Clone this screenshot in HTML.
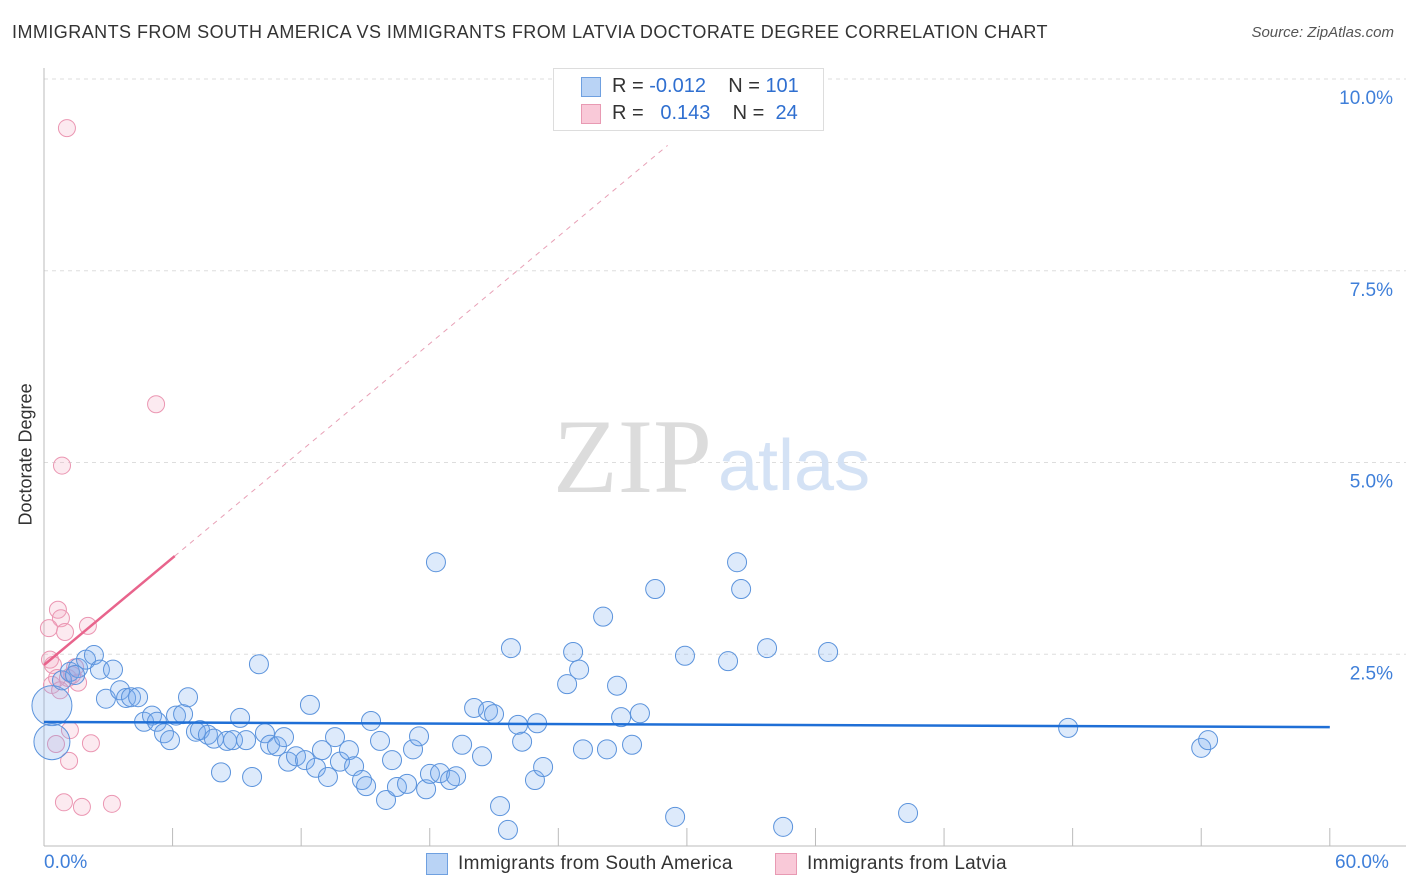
<!DOCTYPE html>
<html><head><meta charset="utf-8"><style>
body{margin:0;background:#fff;font-family:"Liberation Sans",sans-serif;}
#c{position:relative;width:1406px;height:892px;overflow:hidden}
.t{position:absolute;white-space:nowrap}
</style></head><body><div id="c">
<div class="t" style="left:12px;top:22px;font-size:18px;color:#333;letter-spacing:0.45px">IMMIGRANTS FROM SOUTH AMERICA VS IMMIGRANTS FROM LATVIA DOCTORATE DEGREE CORRELATION CHART</div>
<div class="t" style="right:12px;top:24px;font-size:15px;color:#555;font-style:italic">Source: ZipAtlas.com</div>
<svg id="s" width="1406" height="892" style="position:absolute;left:0;top:0"></svg>
</div>
<script>
const yTicks=[2.5,5,7.5,10];
const yTickLabels=["2.5%","5.0%","7.5%","10.0%"];
const xTickVals=[0,6,12,18,24,30,36,42,48,54,60];
const saX=[.37,.37,.84,1.21,1.59,1.96,2.33,2.61,3.22,1.45,2.89,3.55,3.83,4.06,4.39,4.67,5.04,5.27,5.6,5.88,6.16,6.49,6.72,7.09,7.28,7.65,7.93,8.26,8.54,8.82,9.15,9.43,9.71,10.03,10.31,10.55,10.87,11.2,11.39,11.76,12.18,12.41,12.69,12.97,13.25,13.58,13.81,14.23,14.47,14.84,15.03,15.26,15.68,15.96,16.24,16.47,16.94,17.22,17.5,17.83,18.01,18.29,18.48,18.95,19.23,19.51,20.07,20.44,20.72,21,21.28,21.65,21.79,22.12,22.31,22.91,23.01,23.29,24.41,24.69,24.97,25.15,26.09,26.27,26.74,26.93,27.44,27.81,28.52,29.45,29.91,31.92,32.34,32.53,33.74,34.49,36.59,40.32,47.79,54,54.32];
const saY=[1.83,1.36,2.16,2.27,2.32,2.43,2.49,2.3,2.3,2.23,1.92,2.03,1.93,1.94,1.94,1.62,1.7,1.62,1.47,1.38,1.7,1.72,1.94,1.49,1.51,1.45,1.4,.96,1.37,1.38,1.67,1.38,.9,2.37,1.47,1.32,1.3,1.42,1.1,1.17,1.12,1.84,1.02,1.25,.9,1.42,1.1,1.25,1.04,.86,.78,1.63,1.37,.6,1.12,.77,.81,1.26,1.43,.74,.94,3.7,.95,.86,.91,1.32,1.8,1.17,1.76,1.72,.52,.21,2.58,1.58,1.36,.86,1.6,1.03,2.11,2.53,2.3,1.26,2.99,1.26,2.09,1.68,1.32,1.73,3.35,.38,2.48,2.41,3.7,3.35,2.58,.25,2.53,.43,1.54,1.28,1.38];
const saBig=[20,18];
const lvX=[1.07,5.23,.84,.65,.79,.23,.98,2.05,.28,.42,.37,.61,1.12,1.45,1.59,.56,1.21,2.19,1.17,.93,1.77,3.17,.75,1.31];
const lvY=[9.36,5.76,4.96,3.08,2.97,2.84,2.79,2.87,2.43,2.36,2.1,2.19,2.19,2.33,2.13,1.33,1.51,1.34,1.11,.57,.51,.55,2.03,2.23];
const saTrend=[1.617,1.55];
const lvTrend=[2.36,3.78,29.1];
const X=v=>44+v*21.43, Y=v=>846-v*76.7;
const s=document.getElementById('s');const NS='http://www.w3.org/2000/svg';
function mk(t,a){const e=document.createElementNS(NS,t);for(const k in a)e.setAttribute(k,a[k]);s.appendChild(e);return e;}
yTicks.forEach((v,i)=>{
 const g=mk('line',{x1:44,x2:1420,y1:Y(v),y2:Y(v),stroke:'#ddd','stroke-dasharray':'4,4'});
 
 
 const t=mk('text',{x:1393,y:Y(v)+25,'text-anchor':'end','font-size':19,fill:'#3f7fd9','font-family':'Liberation Sans'});t.textContent=yTickLabels[i];
 
 
});
mk('line',{x1:44,x2:44,y1:68,y2:846,stroke:'#bbb'});
mk('line',{x1:44,x2:1406,y1:846,y2:846,stroke:'#bbb'});
xTickVals.forEach(v=>{const l=mk('line',{x1:X(v),x2:X(v),y1:828,y2:846,stroke:'#bbb'});
 
 });
let w=mk('text',{x:553,y:492,'font-size':106,fill:'#dcdcdc','font-family':'Liberation Serif'});w.textContent='ZIP';


w=mk('text',{x:718,y:490,'font-size':72,fill:'#d4e2f5','font-family':'Liberation Sans'});w.textContent='atlas';


let d=mk('line',{x1:X(0),y1:Y(lvTrend[0]),x2:X(lvTrend[2]),y2:Y(lvTrend[0]+(lvTrend[1]-lvTrend[0])/6.1*lvTrend[2]),stroke:'#e8a0b6','stroke-dasharray':'5,5','stroke-width':1});


lvX.forEach((v,i)=>{const c=mk('circle',{cx:X(v),cy:Y(lvY[i]),r:8.5,fill:'rgba(244,170,195,0.25)',stroke:'#eb96b2','stroke-width':1});
 
 });
saX.forEach((v,i)=>{const c=mk('circle',{cx:X(v),cy:Y(saY[i]),r:saBig[i]||9.5,fill:'rgba(120,172,238,0.25)',stroke:'#5b93dc','stroke-width':1});
 
 });
d=mk('line',{x1:X(0),y1:Y(lvTrend[0]),x2:X(6.1),y2:Y(lvTrend[1]),stroke:'#e8648c','stroke-width':2.5});


d=mk('line',{x1:X(0),y1:Y(saTrend[0]),x2:X(60),y2:Y(saTrend[1]),stroke:'#1f6fd6','stroke-width':2.5});


</script>
<div class="t" style="left:-44px;top:445px;transform:rotate(-90deg);font-size:18px;color:#333;width:140px;text-align:center">Doctorate Degree</div>
<div class="t" style="left:44px;top:852px;font-size:19px;color:#3f7fd9">0.0%</div>
<div class="t" style="left:1335px;top:852px;font-size:19px;color:#3f7fd9">60.0%</div>
<div style="position:absolute;left:553px;top:68px;width:269px;height:61px;border:1px solid #ddd;background:#fff;font-size:20px;color:#333">
 <div style="position:absolute;left:27px;top:8px;width:18px;height:18px;background:#b9d3f5;border:1px solid #6fa0e0"></div>
 <div class="t" style="left:58px;top:6px">R = <span style="color:#2f6fd0">-0.012</span>&nbsp;&nbsp;&nbsp; N = <span style="color:#2f6fd0">101</span></div>
 <div style="position:absolute;left:27px;top:35px;width:18px;height:18px;background:#f9c9d8;border:1px solid #e89ab3"></div>
 <div class="t" style="left:58px;top:33px">R = &nbsp;&nbsp;<span style="color:#2f6fd0">0.143</span>&nbsp;&nbsp;&nbsp; N = &nbsp;<span style="color:#2f6fd0">24</span></div>
</div>
<div style="position:absolute;left:426px;top:853px;width:20px;height:20px;background:#b9d3f5;border:1px solid #6fa0e0"></div>
<div class="t" style="left:458px;top:853px;font-size:19px;color:#333;letter-spacing:0.3px">Immigrants from South America</div>
<div style="position:absolute;left:775px;top:853px;width:20px;height:20px;background:#f9c9d8;border:1px solid #e89ab3"></div>
<div class="t" style="left:807px;top:853px;font-size:19px;color:#333;letter-spacing:0.3px">Immigrants from Latvia</div>
</body></html>
